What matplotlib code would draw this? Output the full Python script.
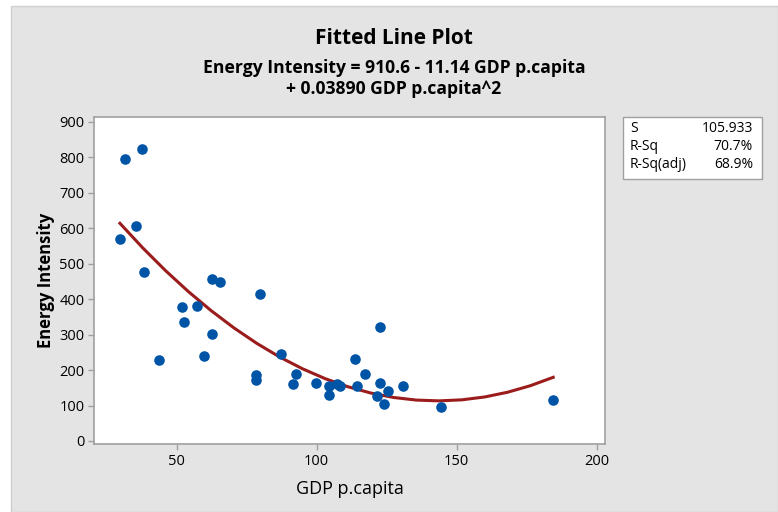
import matplotlib
matplotlib.use("Agg")
import matplotlib.pyplot as plt
import numpy as np
from matplotlib.patches import Rectangle

gdp = [31.6, 37.5, 35.5, 29.75, 38.4, 62.6, 65.5, 79.75, 51.8, 57.4, 52.7, 62.7,
       59.75, 43.6, 87.4, 78.3, 78.3, 92.7, 91.6, 99.75, 104.5, 104.5, 107.4,
       108.3, 122.6, 113.6, 117.4, 114.5, 122.6, 125.5, 121.6, 124.1, 130.7,
       144.5, 184.5]
energy = [794, 824, 607, 569, 475, 456, 448, 415, 378, 381, 336, 302,
          239, 227, 246, 185, 171, 190, 160, 163, 156, 130, 160,
          156, 321, 231, 190, 156, 163, 141, 126, 103, 156,
          95, 115]
coef = [910.6, -11.14, 0.03890]
stats_labels = ["S", "R-Sq", "R-Sq(adj)"]
stats_values = ["105.933", "70.7%", "68.9%"]
x_ticks = [50, 100, 150, 200]
y_ticks = [0, 100, 200, 300, 400, 500, 600, 700, 800, 900]

plt.rcParams['font.family'] = ["Open Sans", "DejaVu Sans"]

W, H = 778, 512
fig = plt.figure(figsize=(W/100, H/100), dpi=100)
fig.patch.set_facecolor("white")
fig.patches.append(Rectangle((11/W, 0), 1 - 11/W, 1 - 6/H, transform=fig.transFigure,
                             facecolor="#e4e4e4", edgecolor="#cfcfcf", lw=1, zorder=-10))

ax = fig.add_axes([94.3/W, 1 - 444/H, (605 - 94.3)/W, (444 - 116.7)/H])
ax.set_facecolor("white")
for s in ax.spines.values():
    s.set_color("#a0a0a0")
    s.set_linewidth(1.2)

ax.scatter(gdp, energy, s=58, color="#0054a6", zorder=3, linewidths=0)
xs = np.linspace(min(gdp), max(gdp), 20)
ys = coef[0] + coef[1]*xs + coef[2]*xs**2
ax.plot(xs, ys, color="#9b1c1c", lw=2.2, zorder=2)

ax.set_xlim(20.6, 203)
ax.set_ylim(-8.5, 914)
ax.set_xticks(x_ticks)
ax.set_yticks(y_ticks)
ax.tick_params(axis="both", colors="#a0a0a0", length=4, width=1, labelsize=10.5,
               labelcolor="black", pad=3)

ax.set_xlabel("GDP p.capita", fontsize=13, labelpad=8)
ax.set_ylabel("Energy Intensity", fontsize=12, fontweight="bold", labelpad=3)

fig.text(394/W, 1 - 38/H, "Fitted Line Plot", ha="center", va="center",
         fontsize=15, fontweight="bold")
fig.text(394/W, 1 - 68/H, "Energy Intensity = 910.6 - 11.14 GDP p.capita",
         ha="center", va="center", fontsize=12.6, fontweight="bold")
fig.text(394/W, 1 - 89/H, "+ 0.03890 GDP p.capita^2",
         ha="center", va="center", fontsize=12.6, fontweight="bold")

fig.patches.append(Rectangle((623.3/W, 1 - 179/H), (761.7 - 623.3)/W, (179 - 117.3)/H,
                             transform=fig.transFigure, facecolor="white",
                             edgecolor="#a0a0a0", lw=1))
for i, (lab, val) in enumerate(zip(stats_labels, stats_values)):
    yy = 1 - (128 + 18*i)/H
    fig.text(630/W, yy, lab, ha="left", va="center", fontsize=10)
    fig.text(753/W, yy, val, ha="right", va="center", fontsize=10)

fig.savefig("out.png", dpi=100)
